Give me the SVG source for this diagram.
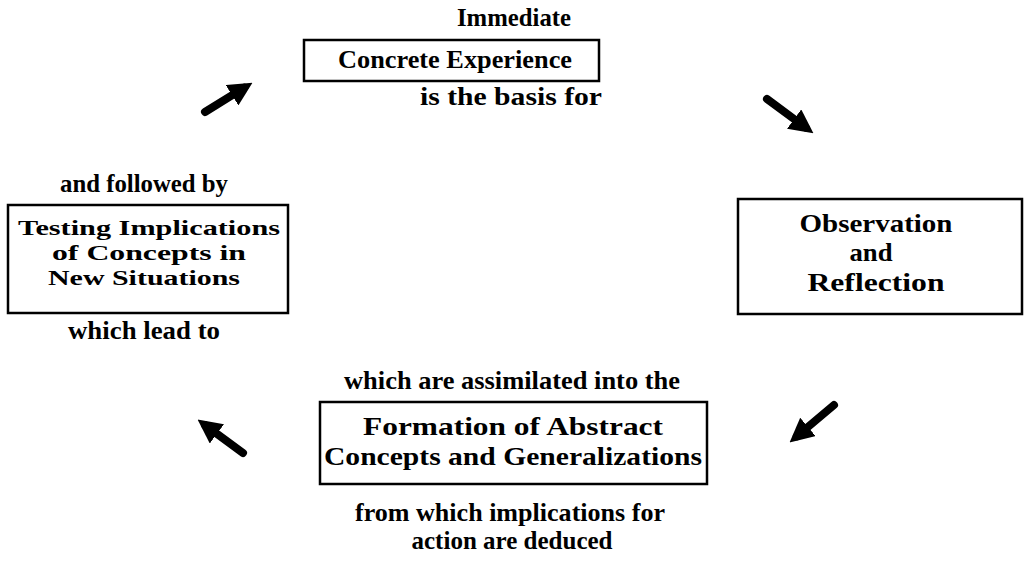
<svg xmlns="http://www.w3.org/2000/svg" width="1029" height="581" viewBox="0 0 1029 581">
<style>
text{font-family:"Liberation Serif","DejaVu Serif",serif;font-weight:bold;font-size:25.5px;fill:#000;text-anchor:middle}
text.tight{font-size:22px}
.box{fill:none;stroke:#000;stroke-width:2.5}
.arr{stroke:#000;stroke-width:8;stroke-linecap:round;fill:none}
</style>
<defs>
<marker id="ah" viewBox="0 0 10 10" refX="6" refY="5" markerWidth="3" markerHeight="3" orient="auto" markerUnits="strokeWidth">
<path d="M0,0 L10,5 L0,10 z" fill="#000"/>
</marker>
</defs>
<rect width="1029" height="581" fill="#fff"/>
<g id="concrete-experience">
<text x="514" y="26" textLength="114" lengthAdjust="spacingAndGlyphs">Immediate</text>
<rect class="box" x="304" y="40" width="295" height="41"/>
<text x="455" y="68" textLength="234" lengthAdjust="spacingAndGlyphs">Concrete Experience</text>
<text x="511" y="105" textLength="182" lengthAdjust="spacingAndGlyphs">is the basis for</text>
</g>
<g id="observation-reflection">
<rect class="box" x="738" y="199" width="284" height="115"/>
<text x="876" y="232" textLength="153" lengthAdjust="spacingAndGlyphs">Observation</text>
<text x="871" y="261" textLength="43" lengthAdjust="spacingAndGlyphs">and</text>
<text x="876" y="291" textLength="137" lengthAdjust="spacingAndGlyphs">Reflection</text>
</g>
<g id="abstract-concepts">
<text x="512" y="389" textLength="336" lengthAdjust="spacingAndGlyphs">which are assimilated into the</text>
<rect class="box" x="320" y="402" width="387" height="82"/>
<text x="513" y="435" textLength="300" lengthAdjust="spacingAndGlyphs">Formation of Abstract</text>
<text x="513" y="465" textLength="378" lengthAdjust="spacingAndGlyphs">Concepts and Generalizations</text>
<text x="510" y="521" textLength="310" lengthAdjust="spacingAndGlyphs">from which implications for</text>
<text x="512" y="549" textLength="201" lengthAdjust="spacingAndGlyphs">action are deduced</text>
</g>
<g id="testing-implications">
<text x="144" y="192" textLength="168" lengthAdjust="spacingAndGlyphs">and followed by</text>
<rect class="box" x="8" y="205" width="280" height="108"/>
<text class="tight" x="149" y="235" textLength="262" lengthAdjust="spacingAndGlyphs">Testing Implications</text>
<text class="tight" x="149" y="260" textLength="194" lengthAdjust="spacingAndGlyphs">of Concepts in</text>
<text class="tight" x="144" y="285" textLength="192" lengthAdjust="spacingAndGlyphs">New Situations</text>
<text x="144" y="339" textLength="152" lengthAdjust="spacingAndGlyphs">which lead to</text>
</g>
<g id="connectors">
<line class="arr" x1="205" y1="112" x2="244.3" y2="87.7" marker-end="url(#ah)"/>
<line class="arr" x1="767" y1="99" x2="805.7" y2="127.6" marker-end="url(#ah)"/>
<line class="arr" x1="834" y1="405" x2="796.9" y2="436.2" marker-end="url(#ah)"/>
<line class="arr" x1="243" y1="453" x2="205.3" y2="425.3" marker-end="url(#ah)"/>
</g>
</svg>
